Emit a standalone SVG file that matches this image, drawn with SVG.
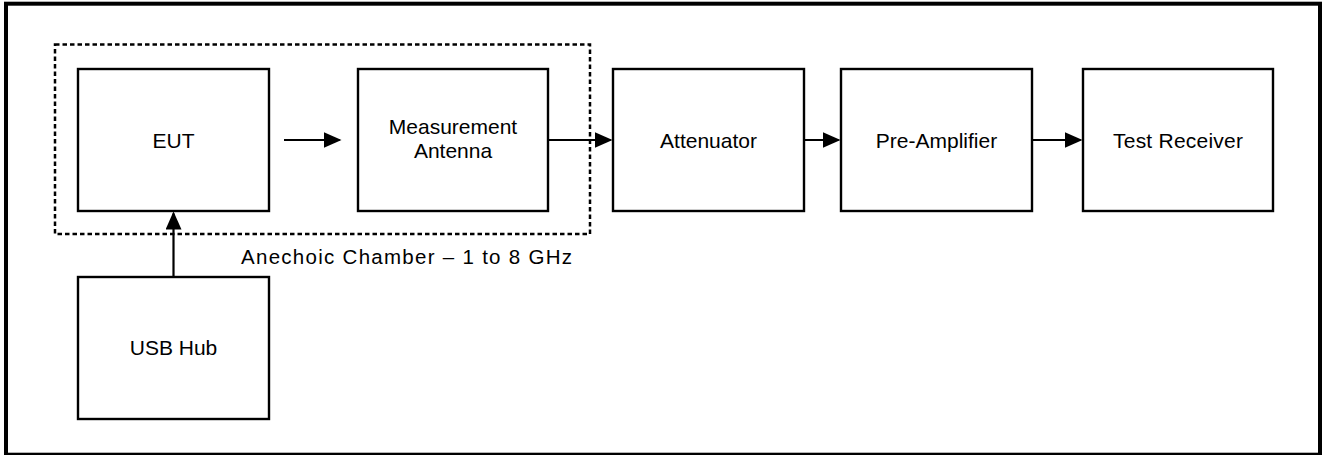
<svg xmlns="http://www.w3.org/2000/svg" width="1322" height="455" viewBox="0 0 1322 455">
<style>
.box{fill:#fff;stroke:#000;stroke-width:2.4}
.lbl{font-family:"Liberation Sans",Arial,sans-serif;font-size:21px;fill:#000;text-anchor:middle}
.conn{stroke:#000;stroke-width:2.2;fill:none}
</style>
<defs>
<marker id="ah" markerUnits="userSpaceOnUse" markerWidth="18" markerHeight="16" refX="16" refY="8" orient="auto">
<path d="M0,0 L18,8 L0,16 z" fill="#000"/>
</marker>
</defs>
<rect x="6" y="3.7" width="1314" height="451" fill="#fff" stroke="#000" stroke-width="4"/>
<g id="chamber">
<rect x="55" y="44.5" width="535" height="189.5" fill="none" stroke="#000" stroke-width="2.5" stroke-dasharray="4.5,3"/>
<text x="241" y="264" font-family="Liberation Sans, Arial, sans-serif" font-size="20.5" textLength="331" lengthAdjust="spacing">Anechoic Chamber – 1 to 8 GHz</text>
</g>
<g id="eut"><rect class="box" x="78" y="69" width="191" height="142"/><text class="lbl" x="173.5" y="147.5">EUT</text></g>
<g id="antenna"><rect class="box" x="358" y="69" width="190" height="142"/><text class="lbl" x="453" y="134">Measurement</text><text class="lbl" x="453" y="157.5">Antenna</text></g>
<g id="attenuator"><rect class="box" x="613" y="69" width="191" height="142"/><text class="lbl" x="708.5" y="147.5">Attenuator</text></g>
<g id="preamp"><rect class="box" x="841" y="69" width="191" height="142"/><text class="lbl" x="936.5" y="147.5">Pre-Amplifier</text></g>
<g id="receiver"><rect class="box" x="1083" y="69" width="190" height="142"/><text class="lbl" x="1178" y="147.5" textLength="130" lengthAdjust="spacing">Test Receiver</text></g>
<g id="usbhub"><rect class="box" x="78" y="277" width="191" height="142"/><text class="lbl" x="173.5" y="355">USB Hub</text></g>
<g id="connectors">
<line class="conn" x1="284" y1="140" x2="339.5" y2="140" marker-end="url(#ah)"/>
<line class="conn" x1="548" y1="140" x2="610.5" y2="140" marker-end="url(#ah)"/>
<line class="conn" x1="804" y1="140" x2="838.5" y2="140" marker-end="url(#ah)"/>
<line class="conn" x1="1032" y1="140" x2="1080.5" y2="140" marker-end="url(#ah)"/>
<line class="conn" x1="173.5" y1="277" x2="173.5" y2="213.5" marker-end="url(#ah)"/>
</g>
</svg>
